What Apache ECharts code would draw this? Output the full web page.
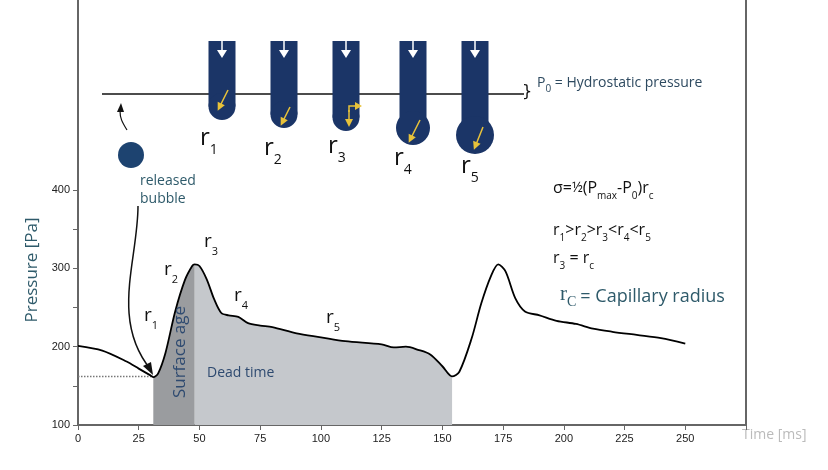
<!DOCTYPE html>
<html><head><meta charset="utf-8">
<script src="https://cdn.jsdelivr.net/npm/echarts@6/dist/echarts.min.js"></script>
<style>html,body{margin:0;padding:0;background:#fff}#chart-container{width:828px;height:470px}</style>
</head><body><div id="chart-container"></div>
<script>
var dom = document.getElementById('chart-container');
var myChart = echarts.init(dom, null, { renderer: 'canvas' });

// pressure curve, time [ms] vs pressure [Pa]
var times = [0, 10, 20, 25, 30, 31, 33, 36, 40, 44, 47, 48, 50, 53, 56, 59, 62, 66, 70, 75, 80, 90, 100, 110, 125, 130, 135, 140, 145, 150, 154, 157, 162, 166, 170, 173, 176, 180, 184, 190, 197, 205, 212, 220, 230, 240, 250];
var pressure = [201, 195, 181, 172, 163, 161, 166, 192, 245, 285, 303, 305, 303, 286, 261, 243, 240, 238, 230, 227, 225, 217, 212, 207, 203, 199, 200, 196, 190, 175, 162, 168, 210, 255, 290, 305, 296, 262, 245, 240, 233, 229, 223, 219, 215, 211, 204];
var surfaceAge = [30.5, 48];   // darker band
var deadTime = [48, 154];      // lighter band
var bubbleLevel = 162;
var xTicks = [0, 25, 50, 75, 100, 125, 150, 175, 200, 225, 250];

var pts = times.map(function (t, i) { return [t, pressure[i]]; });
function band(r) {
  return pts.filter(function (p) { return p[0] >= r[0] && p[0] <= r[1]; });
}

var navy = '#1b3567';
var teal = '#2e5a6a';
var graphics = [];
// frame: left axis continues above 400, right edge
graphics.push({ type: 'line', shape: { x1: 78, y1: 0, x2: 78, y2: 191 }, style: { stroke: '#666', lineWidth: 2 } });
graphics.push({ type: 'line', shape: { x1: 746, y1: 0, x2: 746, y2: 425 }, style: { stroke: '#666', lineWidth: 2 } });
graphics.push({ type: 'text', x: 32, y: 270, rotation: Math.PI / 2, style: { text: 'Pressure [Pa]', font: '17px "Open Sans"', fill: teal, align: 'center', verticalAlign: 'middle' } });
graphics.push({ type: 'line', shape: { x1: 102, y1: 94, x2: 524, y2: 94 }, style: { stroke: '#111', lineWidth: 1.5 } });
graphics.push({ type: 'text', x: 522, y: 84, style: { text: '}', font: '16px DejaVu Sans', fill: '#111' } });
// tubes
var tubes = [
  { x: 222, bottom: 120, bulb: 0 },
  { x: 284, bottom: 128, bulb: 0 },
  { x: 346, bottom: 131, bulb: 0 },
  { x: 413, bottom: 128, bulb: 17 },
  { x: 475, bottom: 135, bulb: 19 }
];
var yellow = [[[228, 90], [219, 108]], [[290, 107], [282, 123]], [[349, 110], [349, 124]], [[420, 120], [410, 140]], [[483, 127], [475, 147]]];
tubes.forEach(function (t, i) {
  var w = 27, top = 41;
  if (!t.bulb) {
    graphics.push({ type: 'rect', shape: { x: t.x - w / 2, y: top, width: w, height: t.bottom - top - w / 2 }, style: { fill: navy } });
    graphics.push({ type: 'circle', shape: { cx: t.x, cy: t.bottom - w / 2, r: w / 2 }, style: { fill: navy } });
  } else {
    graphics.push({ type: 'rect', shape: { x: t.x - w / 2, y: top, width: w, height: t.bottom - top }, style: { fill: navy } });
    graphics.push({ type: 'circle', shape: { cx: t.x, cy: t.bottom, r: t.bulb }, style: { fill: navy } });
  }
  graphics.push({ type: 'line', shape: { x1: t.x, y1: top, x2: t.x, y2: 55 }, style: { stroke: '#fff', lineWidth: 1.5 } });
  graphics.push({ type: 'polygon', shape: { points: [[t.x - 5, 50], [t.x + 5, 50], [t.x, 58]] }, style: { fill: '#fff' } });
  var a = yellow[i];
  graphics.push({ type: 'line', shape: { x1: a[0][0], y1: a[0][1], x2: a[1][0], y2: a[1][1] }, style: { stroke: '#e8c23a', lineWidth: 1.5 } });
  var dx = a[1][0] - a[0][0], dy = a[1][1] - a[0][1], L = Math.sqrt(dx * dx + dy * dy);
  var ux = dx / L, uy = dy / L;
  graphics.push({ type: 'polygon', shape: { points: [[a[1][0] + ux * 3, a[1][1] + uy * 3], [a[1][0] - ux * 5 - uy * 4, a[1][1] - uy * 5 + ux * 4], [a[1][0] - ux * 5 + uy * 4, a[1][1] - uy * 5 - ux * 4]] }, style: { fill: '#e8c23a' } });
});
graphics.push({ type: 'polyline', shape: { points: [[349, 112], [349, 106], [357, 106]] }, style: { stroke: '#e8c23a', lineWidth: 1.5, fill: null } });
graphics.push({ type: 'polygon', shape: { points: [[362, 106], [355, 102], [355, 110]] }, style: { fill: '#e8c23a' } });
// released bubble + small arrow
graphics.push({ type: 'circle', shape: { cx: 131, cy: 155, r: 13 }, style: { fill: '#1d4370' } });
graphics.push({ type: 'bezierCurve', shape: { x1: 127, y1: 130, x2: 120, y2: 111, cpx1: 122, cpy1: 122, cpx2: 120, cpy2: 118 }, style: { stroke: '#111', lineWidth: 1.2, fill: null } });
graphics.push({ type: 'polygon', shape: { points: [[121, 103], [117, 112], [124, 112]] }, style: { fill: '#111' } });
graphics.push({ type: 'text', x: 140, y: 172, style: { text: 'released\nbubble', font: '14px "Open Sans"', fill: teal, lineHeight: 18 } });
graphics.push({ type: 'bezierCurve', shape: { x1: 138, y1: 206, cpx1: 138, cpy1: 260, cpx2: 110, cpy2: 320, x2: 151, y2: 370 }, style: { stroke: '#111', lineWidth: 1.5, fill: null } });
graphics.push({ type: 'polygon', shape: { points: [[153, 375], [143, 366], [151, 362]] }, style: { fill: '#111' } });

// rich text with subscripts: main tokens lifted by bottom padding
function main(size, fill, family, drop) {
  return { fontSize: size, fontFamily: family || 'Open Sans', fill: fill || '#111', verticalAlign: 'bottom', padding: [0, 0, drop, 0] };
}
function subSt(size, fill, family) {
  return { fontSize: size, fontFamily: family || 'Open Sans', fill: fill || '#111', verticalAlign: 'bottom' };
}
function rLabel(x, y, n, size) {
  graphics.push({ type: 'text', x: x, y: y, style: { text: '{a|r}{s|' + n + '}', rich: { a: main(size, '#111', null, Math.round(size * 0.3)), s: subSt(Math.round(size * 0.6)) } } });
}
rLabel(200, 126, 1, 24); rLabel(264, 136, 2, 24); rLabel(328, 134, 3, 24); rLabel(394, 146, 4, 24); rLabel(461, 154, 5, 24);
rLabel(144, 306, 1, 19); rLabel(164, 260, 2, 19); rLabel(204, 232, 3, 19); rLabel(234, 286, 4, 19); rLabel(326, 308, 5, 19);
graphics.push({ type: 'text', x: 537, y: 76, style: { text: '{a|P}{s|0}{a| = Hydrostatic pressure}', rich: { a: main(14, '#2e4a60', null, 4), s: subSt(10, '#2e4a60') } } });
var fa = main(16, '#111', null, 5), fsub = subSt(10);
graphics.push({ type: 'text', x: 553, y: 180, style: { text: '{a|σ=}{f|½}{a|(P}{s|max}{a|-P}{s|0}{a|)r}{s|c}', rich: { a: fa, f: main(14, '#111', null, 6), s: fsub } } });
graphics.push({ type: 'text', x: 553, y: 222, style: { text: '{a|r}{s|1}{a|>r}{s|2}{a|>r}{s|3}{a|<r}{s|4}{a|<r}{s|5}', rich: { a: fa, s: fsub } } });
graphics.push({ type: 'text', x: 553, y: 250, style: { text: '{a|r}{s|3}{a| = r}{s|c}', rich: { a: fa, s: fsub } } });
graphics.push({ type: 'text', x: 560, y: 284, style: { text: '{a|r}{s|C}{b|= Capillary radius}', rich: { a: main(21, teal, 'Liberation Serif', 4), s: subSt(14, teal, 'Liberation Serif'), b: { fontSize: 18, fontFamily: 'Open Sans', fill: teal, verticalAlign: 'bottom', padding: [0, 0, 3, 4] } } } });
graphics.push({ type: 'text', x: 180, y: 352, z: 100, rotation: Math.PI / 2, style: { text: 'Surface age', font: '17px "Open Sans"', fill: '#2e4a70', align: 'center', verticalAlign: 'middle' } });
graphics.push({ type: 'text', x: 207, y: 366, z: 100, style: { text: 'Dead time', font: '14px "Open Sans"', fill: '#2e4a70' } });
graphics.push({ type: 'text', x: 742, y: 428, style: { text: 'Time [ms]', font: '14px "Open Sans"', fill: '#bbb' } });

var option = {
  animation: false,
  grid: { left: 78, right: 82, top: 190, bottom: 45 },
  xAxis: {
    type: 'value', min: 0, max: 275, interval: 25,
    axisLine: { lineStyle: { color: '#666', width: 2 } },
    axisTick: { length: 5, lineStyle: { color: '#666' } },
    axisLabel: { color: '#222', fontSize: 11, formatter: function (v) { return xTicks.indexOf(v) >= 0 ? v : ''; } },
    splitLine: { show: false }
  },
  yAxis: {
    type: 'value', min: 100, max: 400, interval: 50,
    axisLine: { show: true, lineStyle: { color: '#666', width: 2 } },
    axisTick: { length: 5, lineStyle: { color: '#666' } },
    axisLabel: { color: '#222', fontSize: 11, formatter: function (v) { return v % 100 === 0 ? v : ''; } },
    splitLine: { show: false }
  },
  graphic: graphics,
  series: [
    { type: 'line', data: band(deadTime), symbol: 'none', smooth: 0.3, lineStyle: { width: 0 }, areaStyle: { color: '#c5c8cc', opacity: 1, origin: 'start' }, z: 1 },
    { type: 'line', data: band(surfaceAge).concat([[48, 305]]), symbol: 'none', smooth: 0.3, lineStyle: { width: 0 }, areaStyle: { color: '#9a9c9f', opacity: 1, origin: 'start' }, z: 2 },
    { type: 'line', data: [[0, bubbleLevel], [30.5, bubbleLevel]], symbol: 'none', lineStyle: { color: '#777', width: 1.5, type: 'dotted' }, z: 3 },
    { type: 'line', data: pts, symbol: 'none', smooth: 0.3, lineStyle: { color: '#000', width: 1.8 }, z: 4 }
  ]
};
myChart.setOption(option);
window.addEventListener('resize', myChart.resize);
</script></body></html>
